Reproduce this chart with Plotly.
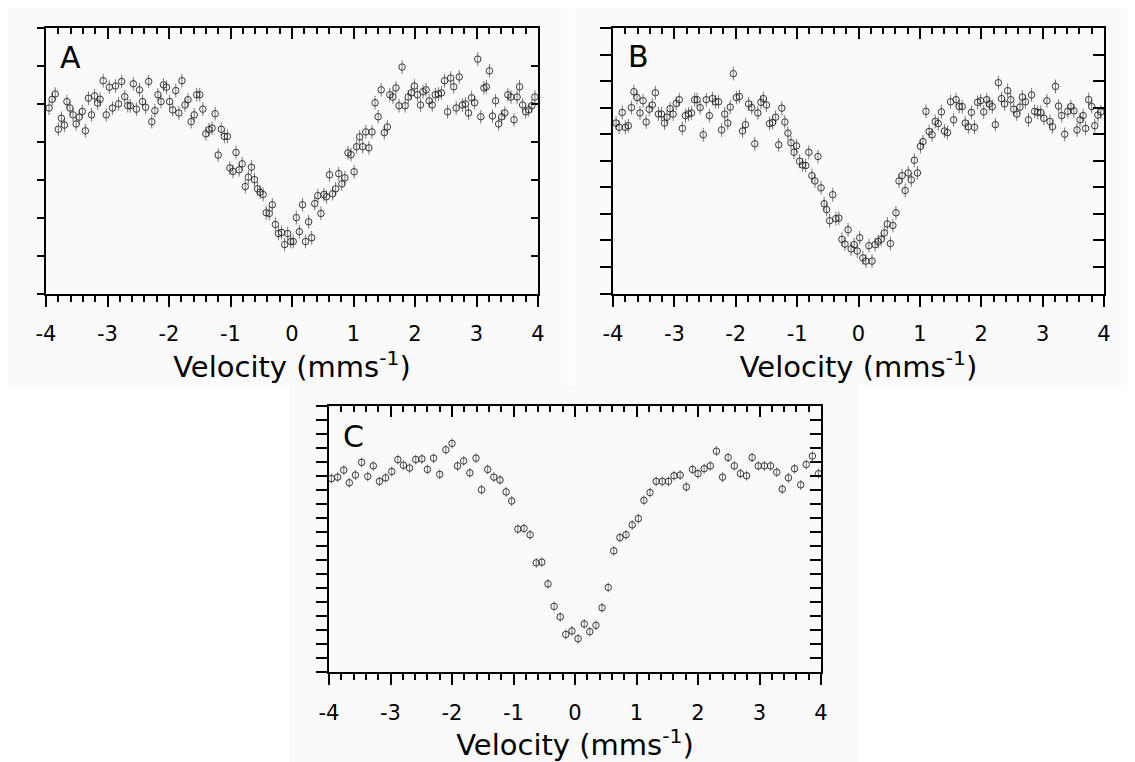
import plotly.graph_objects as go

# ---------------- data ----------------
velocity_ab = [
    -3.95, -3.90, -3.85, -3.80, -3.75, -3.70, -3.66, -3.61, -3.56, -3.51,
    -3.46, -3.41, -3.36, -3.31, -3.26, -3.21, -3.16, -3.12, -3.07, -3.02,
    -2.97, -2.92, -2.87, -2.82, -2.77, -2.72, -2.67, -2.63, -2.58, -2.53,
    -2.48, -2.43, -2.38, -2.33, -2.28, -2.23, -2.18, -2.13, -2.09, -2.04,
    -1.99, -1.94, -1.89, -1.84, -1.79, -1.74, -1.69, -1.64, -1.59, -1.55,
    -1.50, -1.45, -1.40, -1.35, -1.30, -1.25, -1.20, -1.15, -1.10, -1.05,
    -1.01, -0.96, -0.91, -0.86, -0.81, -0.76, -0.71, -0.66, -0.61, -0.56,
    -0.52, -0.47, -0.42, -0.37, -0.32, -0.27, -0.22, -0.17, -0.12, -0.07,
    -0.02, 0.02, 0.07, 0.12, 0.17, 0.22, 0.27, 0.32, 0.37, 0.42,
    0.47, 0.52, 0.56, 0.61, 0.66, 0.71, 0.76, 0.81, 0.86, 0.91,
    0.96, 1.01, 1.05, 1.10, 1.15, 1.20, 1.25, 1.30, 1.35, 1.40,
    1.45, 1.50, 1.55, 1.59, 1.64, 1.69, 1.74, 1.79, 1.84, 1.89,
    1.94, 1.99, 2.04, 2.09, 2.13, 2.18, 2.23, 2.28, 2.33, 2.38,
    2.43, 2.48, 2.53, 2.58, 2.63, 2.67, 2.72, 2.77, 2.82, 2.87,
    2.92, 2.97, 3.02, 3.07, 3.12, 3.16, 3.21, 3.26, 3.31, 3.36,
    3.41, 3.46, 3.51, 3.56, 3.61, 3.66, 3.70, 3.75, 3.80, 3.85,
    3.90, 3.95,
]

transmission_a = [
    99.89, 100.12, 100.26, 99.33, 99.62, 99.44, 100.06, 99.89, 99.71, 99.47,
    99.65, 99.80, 99.29, 100.15, 99.71, 100.21, 100.02, 100.12, 100.61, 99.71,
    100.44, 99.89, 100.47, 100.00, 100.59, 100.19, 99.95, 99.95, 100.53, 99.86,
    100.37, 100.06, 99.91, 100.59, 99.53, 99.82, 100.24, 100.06, 100.50, 100.44,
    100.06, 99.84, 100.35, 99.76, 100.61, 99.97, 100.11, 99.53, 99.71, 100.24,
    100.24, 99.86, 99.21, 99.32, 99.36, 99.74, 98.65, 99.33, 99.14, 99.14,
    98.31, 98.22, 98.72, 98.26, 98.42, 97.82, 98.07, 98.33, 98.00, 97.76,
    97.67, 97.61, 97.13, 97.11, 97.34, 96.82, 96.58, 96.61, 96.29, 96.58,
    96.37, 96.37, 97.00, 96.63, 97.34, 96.37, 96.89, 96.47, 97.37, 97.58,
    97.11, 97.61, 97.55, 98.13, 97.63, 97.76, 98.16, 97.89, 98.05, 98.71,
    98.66, 98.21, 98.87, 99.13, 98.87, 99.26, 98.84, 99.26, 100.03, 99.66,
    100.37, 99.24, 99.39, 100.24, 100.18, 100.42, 99.95, 100.97, 99.95, 100.18,
    100.29, 100.47, 100.24, 99.97, 100.32, 100.37, 100.08, 99.97, 100.24, 100.26,
    100.29, 100.61, 99.79, 100.68, 100.45, 99.89, 100.71, 99.97, 100.00, 99.76,
    100.16, 100.03, 101.18, 99.66, 100.42, 100.45, 100.87, 99.68, 100.08, 99.47,
    99.66, 99.76, 100.24, 100.18, 99.58, 100.18, 100.45, 99.97, 99.79, 99.84,
    99.95, 100.18,
]

transmission_b = [
    99.71, 99.63, 99.91, 99.63, 99.66, 100.00, 100.30, 100.19, 99.90, 100.13,
    99.73, 99.97, 100.05, 100.28, 99.88, 99.88, 99.71, 99.82, 99.98, 99.88,
    100.08, 100.15, 99.61, 99.85, 99.88, 99.90, 100.15, 100.15, 100.00, 99.49,
    100.15, 99.85, 100.17, 100.11, 100.11, 99.58, 99.88, 99.71, 100.01, 100.64,
    100.19, 100.21, 99.56, 99.68, 100.07, 100.00, 99.32, 99.90, 100.10, 100.17,
    100.05, 99.70, 99.72, 99.82, 99.30, 99.99, 99.73, 99.52, 99.34, 99.16,
    99.28, 98.99, 98.92, 98.91, 99.16, 98.72, 98.62, 99.08, 98.49, 98.19,
    98.08, 97.87, 98.36, 97.91, 97.92, 97.52, 97.43, 97.70, 97.34, 97.42,
    97.30, 97.55, 97.17, 97.11, 97.40, 97.11, 97.42, 97.48, 97.52, 97.64,
    97.81, 97.44, 97.78, 98.02, 98.62, 98.72, 98.44, 98.77, 98.64, 99.01,
    98.77, 99.27, 99.36, 99.93, 99.55, 99.49, 99.74, 99.70, 99.92, 99.56,
    99.53, 100.11, 99.77, 100.15, 100.02, 100.02, 99.71, 99.64, 99.91, 99.63,
    100.10, 100.13, 99.92, 100.15, 100.07, 100.02, 99.68, 100.47, 100.17, 100.07,
    100.32, 100.15, 99.97, 99.88, 100.01, 100.20, 100.11, 99.77, 100.24, 99.93,
    99.91, 99.91, 99.80, 100.13, 99.74, 99.64, 100.40, 100.03, 99.85, 99.50,
    99.93, 100.02, 99.94, 99.58, 99.77, 99.85, 99.61, 100.15, 100.02, 99.66,
    99.86, 99.92,
]

velocity_c = [
    -3.96, -3.86, -3.76, -3.67, -3.57, -3.47, -3.37, -3.28, -3.18, -3.08,
    -2.98, -2.88, -2.79, -2.69, -2.59, -2.49, -2.40, -2.30, -2.20, -2.10,
    -2.00, -1.91, -1.81, -1.71, -1.61, -1.52, -1.42, -1.32, -1.22, -1.12,
    -1.03, -0.93, -0.83, -0.73, -0.63, -0.54, -0.44, -0.34, -0.24, -0.15,
    -0.05, 0.05, 0.15, 0.24, 0.34, 0.44, 0.54, 0.63, 0.73, 0.83,
    0.93, 1.03, 1.12, 1.22, 1.32, 1.42, 1.52, 1.61, 1.71, 1.81,
    1.91, 2.00, 2.10, 2.20, 2.30, 2.40, 2.49, 2.59, 2.69, 2.79,
    2.88, 2.98, 3.08, 3.18, 3.28, 3.37, 3.47, 3.57, 3.67, 3.76,
    3.86, 3.96,
]

transmission_c = [
    99.96, 99.98, 100.08, 99.90, 100.01, 100.19, 99.99, 100.14, 99.92, 99.97,
    100.06, 100.23, 100.15, 100.11, 100.23, 100.24, 100.09, 100.25, 100.02, 100.37,
    100.46, 100.14, 100.21, 100.04, 100.25, 99.80, 100.09, 99.98, 99.94, 99.77,
    99.64, 99.24, 99.25, 99.16, 98.76, 98.77, 98.46, 98.14, 97.99, 97.74,
    97.79, 97.68, 97.89, 97.78, 97.87, 98.12, 98.41, 98.93, 99.12, 99.16,
    99.30, 99.39, 99.65, 99.76, 99.92, 99.92, 99.92, 100.00, 100.01, 99.84,
    100.09, 100.03, 100.10, 100.14, 100.35, 99.98, 100.26, 100.14, 100.03, 100.00,
    100.26, 100.14, 100.14, 100.14, 100.05, 99.81, 99.97, 100.10, 99.87, 100.16,
    100.28, 100.03,
]

error_a = 0.18
error_b = 0.13
error_c = 0.07

x_tick_vals = [-4, -3, -2, -1, 0, 1, 2, 3, 4]
x_tick_text = ["-4", "-3", "-2", "-1", "0", "1", "2", "3", "4"]
panel_labels = ["A", "B", "C"]
x_title = "Velocity (mms<sup>-1</sup>)"

# ---------------- layout helpers ----------------
W, H = 1135, 762
FONT = "DejaVu Sans, Verdana, sans-serif"


def px_x(p):
    return p / W


def px_y(p):
    return 1 - p / H


panels = [
    dict(x=velocity_ab, y=transmission_a, err=error_a, yrange=[95.0, 102.0], dtick=1.0,
         xpx=(46, 538), ypx=(28, 293.5), ytl=7, lab=(70.5, 57.5),
         box=(8, 8, 567, 385)),
    dict(x=velocity_ab, y=transmission_b, err=error_b, yrange=[96.5, 101.5], dtick=0.5,
         xpx=(613, 1104), ypx=(28, 293.5), ytl=11, lab=(638, 57),
         box=(575, 8, 1127, 385)),
    dict(x=velocity_c, y=transmission_c, err=error_c, yrange=[97.2, 101.0], dtick=0.2,
         xpx=(329, 821), ypx=(405.5, 672.4), ytl=11, lab=(353, 436.5),
         box=(290, 385, 858, 762)),
]

fig = go.Figure()
layout = dict(
    template="none",
    width=W, height=H,
    margin=dict(l=0, r=0, t=0, b=0, pad=0, autoexpand=False),
    paper_bgcolor="white",
    plot_bgcolor="rgba(0,0,0,0)",
    showlegend=False,
    font=dict(family=FONT, color="black"),
    shapes=[], annotations=[],
)

axis_line = dict(showline=True, linewidth=2, linecolor="black", showgrid=False,
                 zeroline=False, tickcolor="black", tickwidth=2, automargin=False)

for k, p in enumerate(panels):
    n_main = 2 * k + 1
    n_mir = 2 * k + 2
    xm, ym = (f"x{n_main}", f"y{n_main}") if n_main > 1 else ("x", "y")
    xo, yo = f"x{n_mir}", f"y{n_mir}"
    xdom = [px_x(p["xpx"][0]), px_x(p["xpx"][1])]
    ydom = [px_y(p["ypx"][1]), px_y(p["ypx"][0])]

    fig.add_trace(go.Scatter(
        x=p["x"], y=p["y"], mode="markers", xaxis=xm, yaxis=ym,
        marker=dict(symbol="circle-open", size=6.5, color="#222",
                    line=dict(width=0.9, color="#222")),
        error_y=dict(type="constant", value=p["err"], color="#777",
                     thickness=1, width=0),
        hoverinfo="skip",
    ))
    # empty trace so mirrored axes are drawn
    fig.add_trace(go.Scatter(x=[], y=[], xaxis=xo, yaxis=yo, hoverinfo="skip"))

    kx = "xaxis" if n_main == 1 else f"xaxis{n_main}"
    ky = "yaxis" if n_main == 1 else f"yaxis{n_main}"
    layout[kx] = dict(
        axis_line, domain=xdom, anchor=ym, range=[-4, 4],
        tickmode="array", tickvals=x_tick_vals, ticktext=x_tick_text,
        ticks="outside", ticklen=11,
        minor=dict(dtick=0.2, tick0=0, ticks="outside", ticklen=6,
                   tickwidth=2, tickcolor="black"),
        tickfont=dict(family=FONT, size=21, color="black"),
        ticklabelstandoff=9,
        title=dict(text=x_title, font=dict(family=FONT, size=29, color="black"),
                   standoff=7),
    )
    layout[f"xaxis{n_mir}"] = dict(
        axis_line, overlaying=xm, side="top", anchor=ym, range=[-4, 4],
        tickmode="array", tickvals=x_tick_vals, showticklabels=False,
        ticks="inside", ticklen=11,
        minor=dict(dtick=0.2, tick0=0, ticks="inside", ticklen=6,
                   tickwidth=2, tickcolor="black"),
    )
    layout[ky] = dict(
        axis_line, domain=ydom, anchor=xm, range=p["yrange"],
        tick0=p["yrange"][0], dtick=p["dtick"], ticks="outside",
        ticklen=p["ytl"], showticklabels=False,
    )
    layout[f"yaxis{n_mir}"] = dict(
        axis_line, overlaying=ym, side="right", anchor=xm, range=p["yrange"],
        tick0=p["yrange"][0], dtick=p["dtick"], ticks="inside",
        ticklen=p["ytl"], showticklabels=False,
    )

    bx0, by0, bx1, by1 = p["box"]
    layout["shapes"].append(dict(
        type="rect", xref="paper", yref="paper", layer="below",
        x0=px_x(bx0), x1=px_x(bx1), y0=px_y(by1), y1=px_y(by0),
        fillcolor="#fafafa", line=dict(width=0),
    ))
    layout["annotations"].append(dict(
        text=panel_labels[k], xref="paper", yref="paper",
        x=px_x(p["lab"][0]), y=px_y(p["lab"][1]),
        xanchor="center", yanchor="middle", showarrow=False,
        font=dict(family=FONT, size=30, color="black"),
    ))

fig.update_layout(**layout)
# remove the browser's default 8px body margin so the figure sits at the page origin
fig.write_html("out.html", config={"displayModeBar": False},
               post_script="document.body.style.margin='0px';")
